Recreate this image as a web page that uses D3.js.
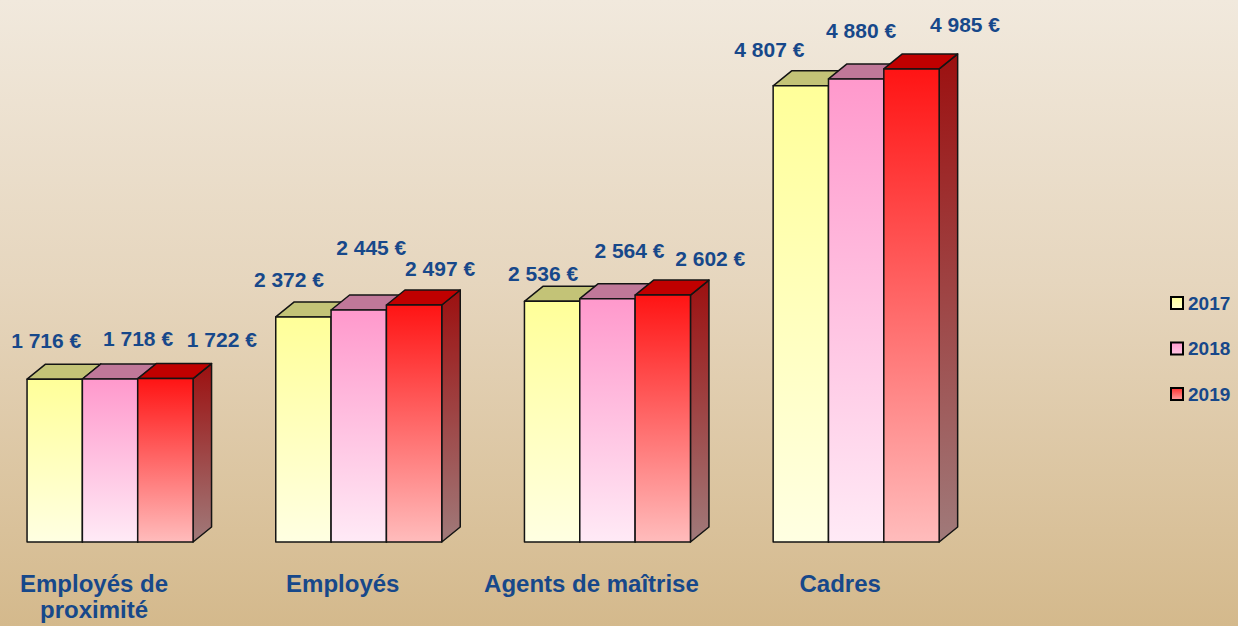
<!DOCTYPE html>
<html><head><meta charset="utf-8">
<script src="https://cdn.jsdelivr.net/npm/d3@7"></script>
<style>html,body{margin:0;padding:0;overflow:hidden;background:#fff}</style>
</head><body>
<svg id="chart" width="1238" height="626"></svg>
<script>
// ---- DATA ----
const categories = ["Employés de proximité", "Employés", "Agents de maîtrise", "Cadres"];
const tickLabelLines = [["Employés de", "proximité"], ["Employés"], ["Agents de maîtrise"], ["Cadres"]];
const years = ["2017", "2018", "2019"];
const values2017 = [1716, 2372, 2536, 4807];
const values2018 = [1718, 2445, 2564, 4880];
const values2019 = [1722, 2497, 2602, 4985];
const seriesValues = [values2017, values2018, values2019];

// ---- LAYOUT (label nudges, relative to each bar's computed top) ----
const labelDx = [[-8.5, -14.5, -9, -31.5], [28, 12.5, 22, 5], [56.5, 26, 47.5, 53.5]];
const labelDy = [[-31, -30, -20, -29], [-33, -55, -41, -41], [-31.6, -29, -29, -37]];

const W = 1238, H = 626;
const svg = d3.select("#chart");
const defs = svg.append("defs");

function vgrad(id, stops) {
  const g = defs.append("linearGradient").attr("id", id).attr("x1", 0).attr("y1", 0).attr("x2", 0).attr("y2", 1);
  stops.forEach(([o, c]) => g.append("stop").attr("offset", o).attr("stop-color", c));
}
vgrad("bg", [[0, "#F1E9DD"], [0.45, "#E6D6BE"], [1, "#D4B98C"]]);
const frontStops = [
  [[0, "#FFFF99"], [1, "#FFFFE2"]],
  [[0, "#FF99CC"], [1, "#FFEAF6"]],
  [[0, "#FF1414"], [1, "#FFBCBC"]]
];
const sideStops = [
  [[0, "#B0B050"], [1, "#B0B098"]],
  [[0, "#B05080"], [1, "#B098A8"]],
  [[0, "#9C1010"], [1, "#A07A7A"]]
];
const topColors = ["#C3C377", "#C07899", "#C00000"];
frontStops.forEach((s, i) => vgrad("front" + i, s));
sideStops.forEach((s, i) => vgrad("side" + i, s));
vgrad("leg2", [[0, "#FF3030"], [1, "#FFA0A0"]]);
vgrad("leg1", [[0, "#FF99CC"], [1, "#FFC8E4"]]);
vgrad("leg0", [[0, "#FFFF99"], [1, "#FFFFCC"]]);

svg.append("rect").attr("width", W).attr("height", H).attr("fill", "url(#bg)");

const x0 = d3.scaleBand().domain(categories).range([-14.3, 980.5]).paddingInner(0.3325).paddingOuter(0.16625);
const x1 = d3.scaleBand().domain(years).range([0, x0.bandwidth()]);
const y = d3.scaleLinear().domain([0, 5000]).range([542, 67.5]);
const ddx = 18.5, ddy = 15;
const fmt = d3.formatLocale({decimal: ",", thousands: "\u00a0", grouping: [3], currency: ["", ""]}).format(",");
const blue = "#17488A";

const barsG = svg.append("g");
const bars = [];
categories.forEach((c, i) => {
  years.forEach((yr, j) => {
    bars.push({c, i, yr, j, v: seriesValues[j][i]});
  });
});

bars.forEach(b => {
  const x = x0(b.c) + x1(b.yr), w = x1.bandwidth();
  const yt = y(b.v), yb = y(0);
  const g = barsG.append("g").attr("stroke", "#141414").attr("stroke-width", 1.5).attr("stroke-linejoin", "round");
  g.append("path").attr("fill", `url(#side${b.j})`)
    .attr("d", `M${x + w},${yt}L${x + w + ddx},${yt - ddy}L${x + w + ddx},${yb - ddy}L${x + w},${yb}Z`);
  g.append("path").attr("fill", topColors[b.j])
    .attr("d", `M${x},${yt}L${x + ddx},${yt - ddy}L${x + w + ddx},${yt - ddy}L${x + w},${yt}Z`);
  g.append("rect").attr("x", x).attr("y", yt).attr("width", w).attr("height", yb - yt)
    .attr("fill", `url(#front${b.j})`);
});

// value labels
svg.append("g").selectAll("text").data(bars).join("text")
  .attr("x", b => x0(b.c) + x1(b.yr) + x1.bandwidth() / 2 + labelDx[b.j][b.i])
  .attr("y", b => y(b.v) + labelDy[b.j][b.i])
  .attr("text-anchor", "middle")
  .attr("font-family", "'Liberation Sans', Arial, sans-serif")
  .attr("font-weight", "bold").attr("font-size", 21).attr("fill", blue)
  .text(b => fmt(b.v) + "\u00a0€");

// category labels
const catG = svg.append("g");
categories.forEach((c, i) => {
  const t = catG.append("text")
    .attr("x", x0(c) + x0.bandwidth() / 2 - 16).attr("y", 592)
    .attr("text-anchor", "middle")
    .attr("font-family", "'Liberation Sans', Arial, sans-serif")
    .attr("font-weight", "bold").attr("font-size", 24).attr("fill", blue);
  tickLabelLines[i].forEach((line, k) => {
    t.append("tspan").attr("x", x0(c) + x0.bandwidth() / 2 - 16).attr("dy", k === 0 ? 0 : 26).text(line);
  });
});

// legend
const leg = svg.append("g").attr("transform", "translate(1171,297)");
years.forEach((yr, j) => {
  const g = leg.append("g").attr("transform", `translate(0,${j * 45.5})`);
  g.append("rect").attr("x", 0).attr("y", 0).attr("width", 12).attr("height", 12)
    .attr("fill", `url(#leg${j})`).attr("stroke", "#000").attr("stroke-width", 2);
  g.append("text").attr("x", 17).attr("y", 12.5)
    .attr("font-family", "'Liberation Sans', Arial, sans-serif")
    .attr("font-weight", "bold").attr("font-size", 19).attr("fill", blue).text(yr);
});
</script>
</body></html>
